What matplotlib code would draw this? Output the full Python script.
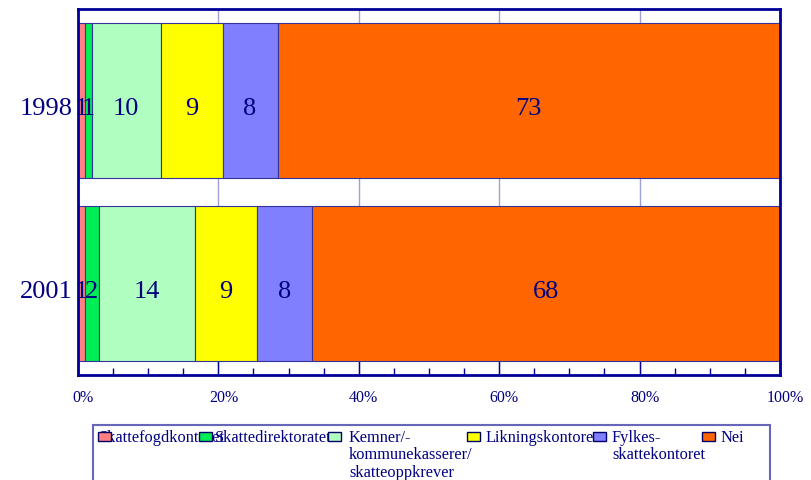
import matplotlib
matplotlib.use("Agg")
import matplotlib.pyplot as plt
from matplotlib.patches import Rectangle
from matplotlib.ticker import MultipleLocator, FuncFormatter
from matplotlib.transforms import blended_transform_factory, ScaledTranslation
import numpy as np

# Survey answers per year (count per category, shown as share of total)
years = ["1998", "2001"]
categories = [
    "Skattefogdkontoret",
    "Skattedirektoratet",
    "Kemner/-\nkommunekasserer/\nskatteoppkrever",
    "Likningskontoret",
    "Fylkes-\nskattekontoret",
    "Nei",
]
values_1998 = [1, 1, 10, 9, 8, 73]
values_2001 = [1, 2, 14, 9, 8, 68]
colors = ["#FF8080", "#00EE55", "#B0FFC0", "#FFFF00", "#8080FF", "#FF6600"]

NAVY = "#000080"
AXIS = "#000099"
FONT = "Liberation Serif"

W, H = 812, 480
fig = plt.figure(figsize=(W / 100, H / 100), dpi=100)
ax = fig.add_axes([78 / W, 1 - 375 / H, (780 - 78) / W, (375 - 9) / H])

# text baseline sits a little below the bar centre
base_shift = 0.079

rows = [values_1998, values_2001]
ypos = [1, 0]
ylab = blended_transform_factory(ax.transAxes, ax.transData)
for yv, vals, year in zip(ypos, rows, years):
    vals = np.asarray(vals, dtype=float)
    pct = vals / vals.sum() * 100
    left = 0.0
    for v, p, c in zip(vals, pct, colors):
        ax.barh(yv, p, left=left, height=0.845, color=c,
                edgecolor="#333399", linewidth=0.8, zorder=2)
        ax.text(left + p / 2, yv - base_shift, f"{int(v)}", ha="center",
                va="baseline", fontsize=19, color=NAVY, family=FONT, zorder=3)
        left += p
    ax.text(-0.007, yv - base_shift, year, transform=ylab, ha="right",
            va="baseline", fontsize=19, color=NAVY, family=FONT)

ax.set_xlim(0, 100)
ax.set_ylim(-0.5, 1.5)
ax.set_yticks([])

ax.xaxis.set_major_locator(MultipleLocator(20))
ax.xaxis.set_minor_locator(MultipleLocator(5))
ax.xaxis.set_major_formatter(FuncFormatter(lambda v, _: f"{v:.0f}%"))
ax.tick_params(axis="x", which="major", direction="in", length=10,
               width=1, color=AXIS, labelsize=11.5, labelcolor=NAVY, pad=11)
ax.tick_params(axis="x", which="minor", direction="in", length=5,
               width=1, color=AXIS)
shift = ScaledTranslation(5 / 100, 0, fig.dpi_scale_trans)
for lab in ax.get_xticklabels():
    lab.set_family(FONT)
    lab.set_transform(lab.get_transform() + shift)

ax.grid(axis="x", which="major", color="#A0A0D8", linewidth=1, zorder=0)
ax.set_axisbelow(True)
for s in ax.spines.values():
    s.set_color(AXIS)
    s.set_linewidth(2)

# Legend box, drawn by hand in figure pixels
def fx(x):
    return x / W

def fy(y):
    return 1 - y / H

fig.add_artist(Rectangle((fx(93), fy(500)), fx(770) - fx(93), fy(425) - fy(500),
                         transform=fig.transFigure, facecolor="white",
                         edgecolor="#6666BB", linewidth=1.5, zorder=1))

marker_x = [98, 199, 328, 467, 593, 702]
text_x = [99, 215, 349, 486, 612, 721]
for mx, tx, lab, c in zip(marker_x, text_x, categories, colors):
    fig.text(fx(tx), fy(430), lab, ha="left", va="top", fontsize=11.8,
             color=NAVY, family=FONT, linespacing=1.12, zorder=2)
    fig.add_artist(Rectangle((fx(mx), fy(441)), fx(13), 9 / H,
                             transform=fig.transFigure, facecolor=c,
                             edgecolor="#000066", linewidth=1, zorder=3))

fig.savefig("out.png", dpi=100)
